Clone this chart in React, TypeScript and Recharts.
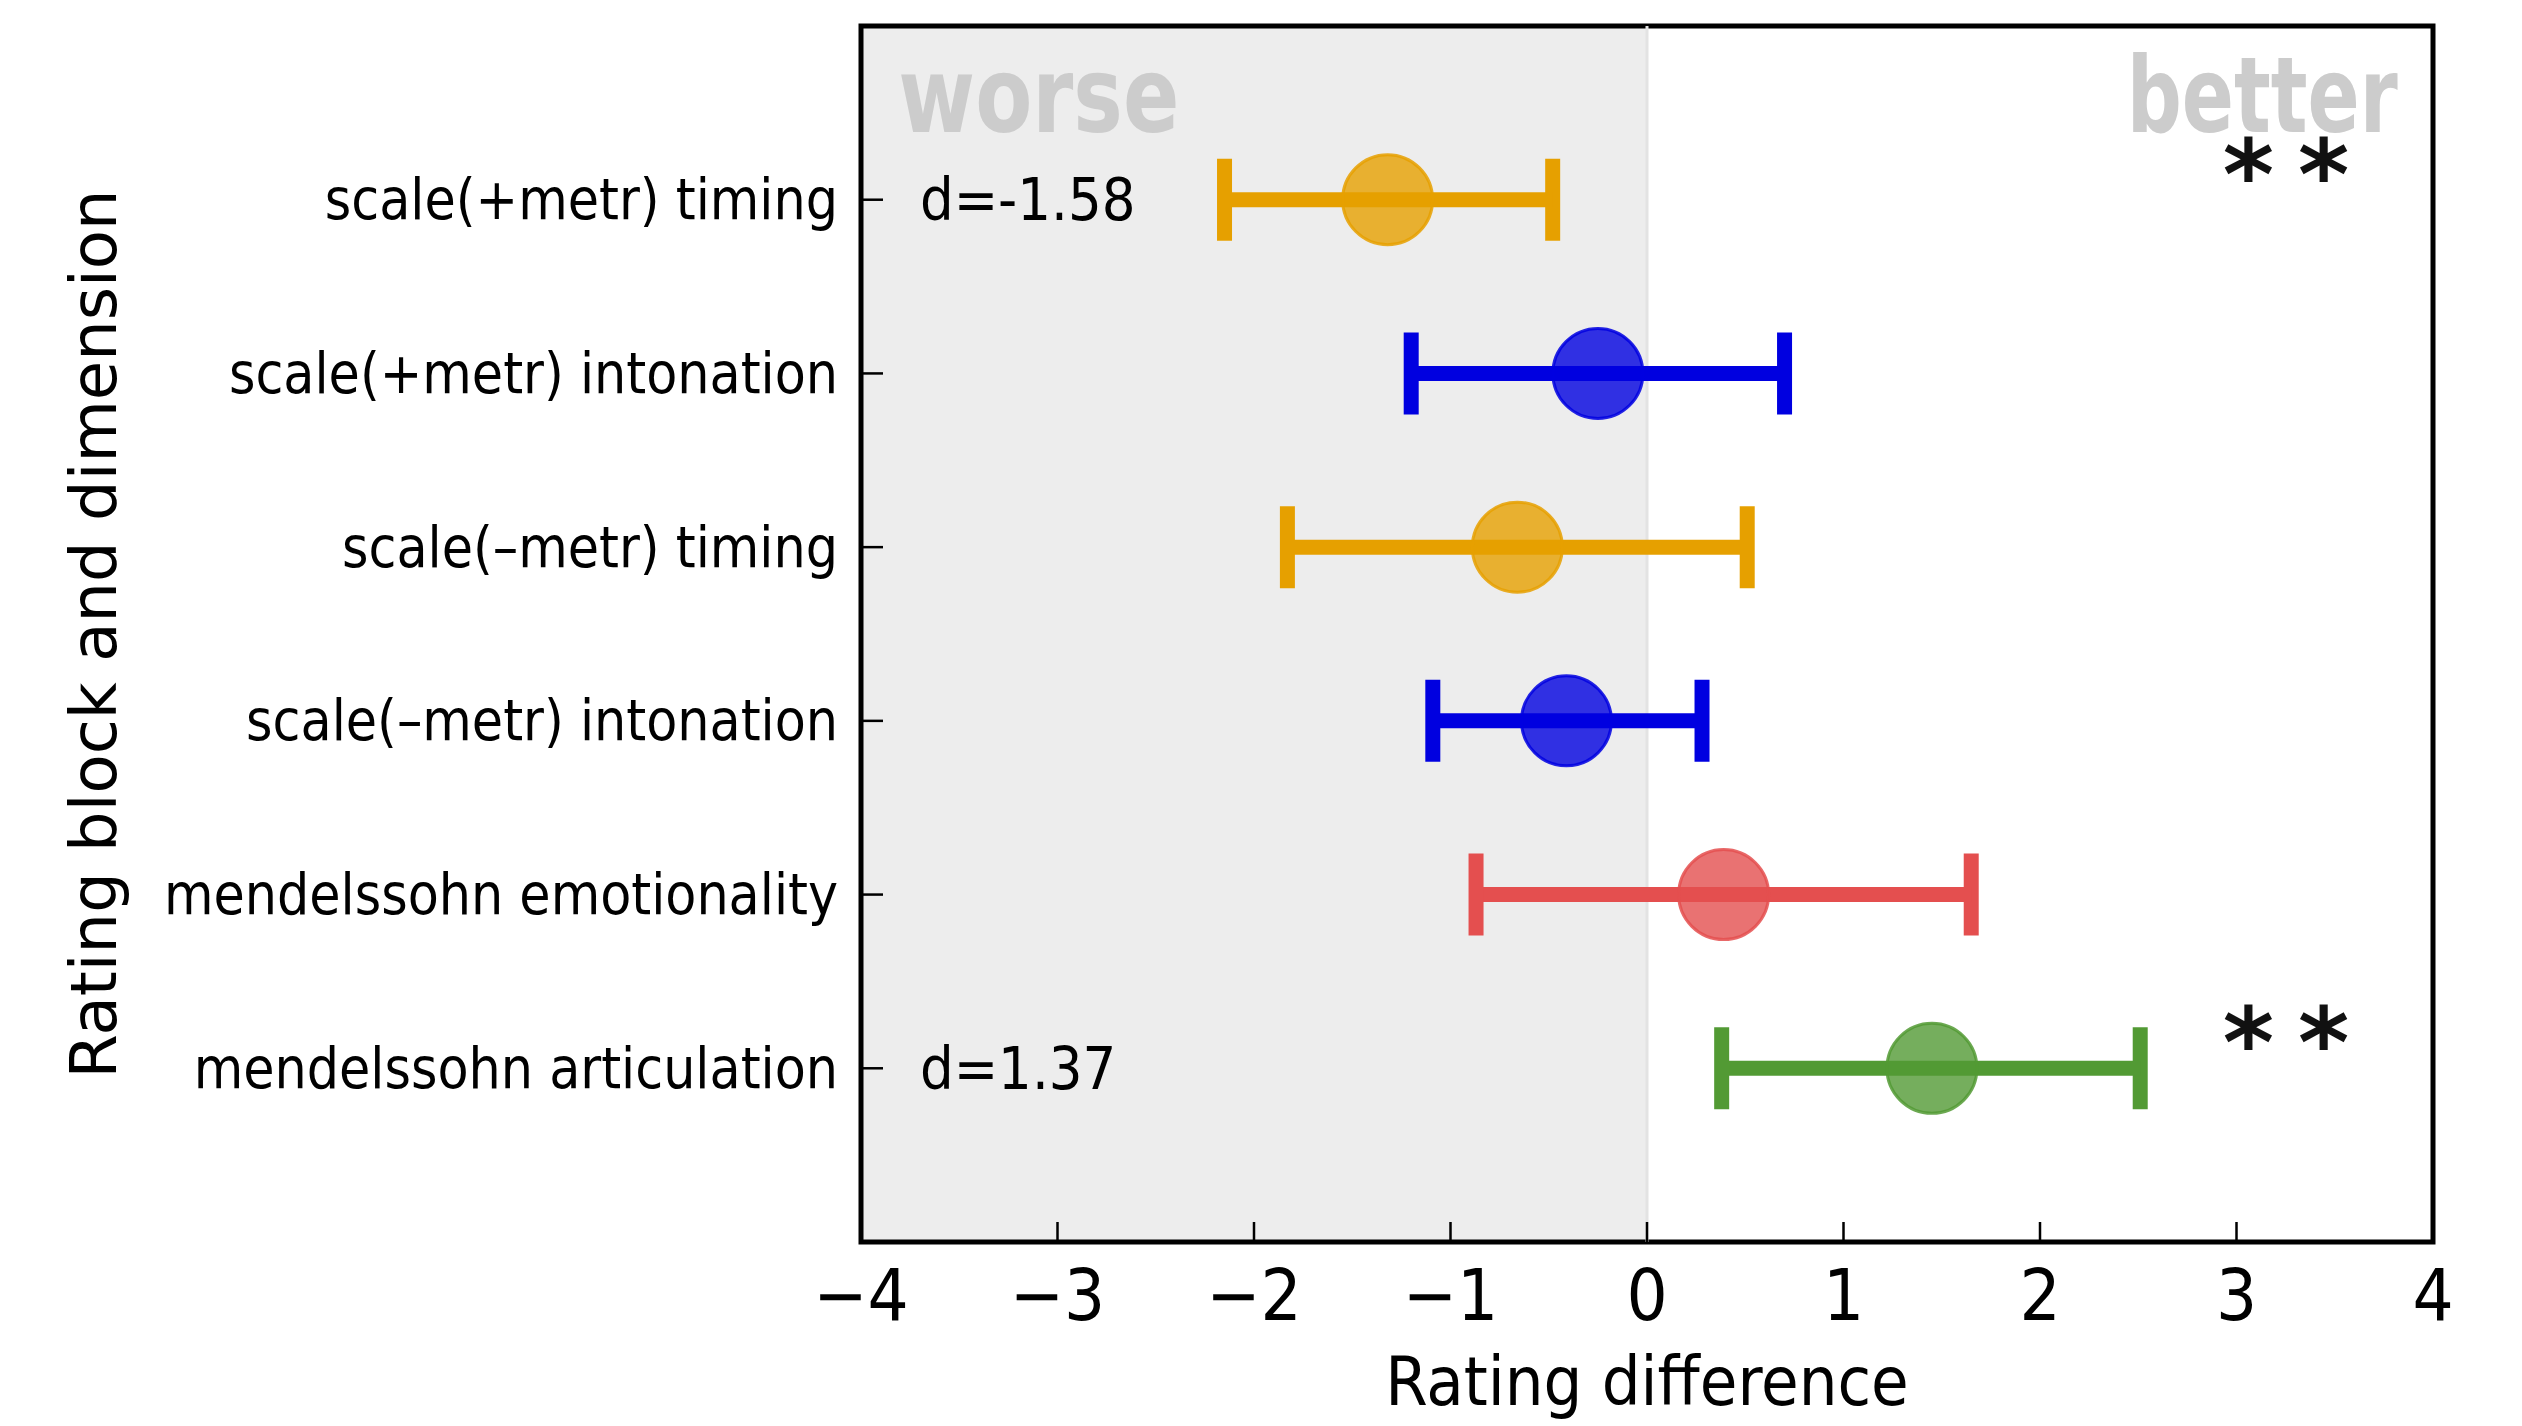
import {
  ScatterChart,
  Scatter,
  XAxis,
  YAxis,
  ErrorBar,
  ReferenceArea,
  ReferenceLine,
} from 'recharts'

// rows, top to bottom
const CATEGORIES = [
  'scale(+metr) timing',
  'scale(+metr) intonation',
  'scale(\u2013metr) timing',
  'scale(\u2013metr) intonation',
  'mendelssohn emotionality',
  'mendelssohn articulation',
]
const DIMENSIONS = ['timing', 'intonation', 'timing', 'intonation', 'emotionality', 'articulation']
const MEANS = [-1.32, -0.25, -0.66, -0.41, 0.39, 1.45]
const LOWER = [-2.15, -1.2, -1.83, -1.09, -0.87, 0.38]
const UPPER = [-0.48, 0.7, 0.51, 0.28, 1.65, 2.51]
const EFFECT_SIZES = ['d=-1.58', '', '', '', '', 'd=1.37']
const SIGNIFICANCE = ['**', '', '', '', '', '**']

const X_TICKS = [-4, -3, -2, -1, 0, 1, 2, 3, 4]
const X_TICK_LABELS = ['\u22124', '\u22123', '\u22122', '\u22121', '0', '1', '2', '3', '4']

const DIM_COLOR: Record<string, string> = {
  timing: '#e6a000',
  intonation: '#0000e0',
  emotionality: '#e44f4f',
  articulation: '#529a34',
}

const W = 2522
const H = 1426
const COND = "'DejaVu Sans Condensed', 'DejaVu Sans', sans-serif"
const PLAIN = "'DejaVu Sans', sans-serif"

// where the text annotations sit, in data units
const D_LABEL_X = -3.7
const STAR_X = 2.93
const HINT_Y = 0.61

const ROWS = CATEGORIES.map((_, i) => i + 1)

const points = CATEGORIES.map((name, i) => ({
  name,
  x: MEANS[i],
  y: i + 1,
  dim: DIMENSIONS[i],
  err: [MEANS[i] - LOWER[i], UPPER[i] - MEANS[i]],
}))

const groups = ['timing', 'intonation', 'emotionality', 'articulation']

const dLabels = EFFECT_SIZES.map((text, i) => ({ x: D_LABEL_X, y: i + 1, text })).filter((d) => d.text)
const stars = SIGNIFICANCE.map((text, i) => ({ x: STAR_X, y: i + 1, text })).filter((d) => d.text)
const hints = [
  { x: -3.81, y: HINT_Y, text: 'worse', anchor: 'start', len: 281 },
  { x: 3.82, y: HINT_Y, text: 'better', anchor: 'end', len: 271 },
]

function BottomTick({ x, y, payload }: any) {
  const label = X_TICK_LABELS[X_TICKS.indexOf(payload.value)]
  return (
    <g>
      <line x1={x} x2={x} y1={y} y2={y - 20} stroke="#000" strokeWidth={2.5} />
      <text x={x} y={y + 78} textAnchor="middle" fontSize={72} fontFamily={COND} fontStretch="condensed" fill="#000">
        {label}
      </text>
    </g>
  )
}

function TopTick({ x, y }: any) {
  return <line x1={x} x2={x} y1={y} y2={y + 20} stroke="#000" strokeWidth={2.5} />
}

function LeftTick({ x, y, payload }: any) {
  return (
    <g>
      <line x1={x} x2={x + 22} y1={y} y2={y} stroke="#000" strokeWidth={2.5} />
      <text
        x={x - 23}
        y={y}
        textAnchor="end"
        dominantBaseline="central"
        fontSize={56.5}
        fontFamily={COND}
        fontStretch="condensed"
        fill="#000"
      >
        {CATEGORIES[payload.value - 1]}
      </text>
    </g>
  )
}

function RightTick({ x, y }: any) {
  return <line x1={x} x2={x - 22} y1={y} y2={y} stroke="#000" strokeWidth={2.5} />
}

const dot = (color: string) => (p: any) => (
  <circle
    cx={p.cx}
    cy={p.cy}
    r={45}
    fill={color}
    fillOpacity={0.8}
    stroke={color}
    strokeOpacity={0.85}
    strokeWidth={3}
  />
)

const DLabel = (p: any) => (
  <text x={p.cx} y={p.cy} dominantBaseline="central" fontSize={59} fontFamily={COND} fontStretch="condensed" fill="#000">
    {p.payload.text}
  </text>
)

const Stars = (p: any) => (
  <text
    x={p.cx}
    y={p.cy + 9}
    textAnchor="start"
    fontSize={98}
    fontWeight="bold"
    letterSpacing={24}
    fontFamily={PLAIN}
    fill="#111"
  >
    {p.payload.text}
  </text>
)

const Hint = (p: any) => (
  <text
    x={p.cx}
    y={p.cy}
    textAnchor={p.payload.anchor}
    fontSize={106}
    fontWeight="bold"
    fontFamily={COND}
    fontStretch="condensed"
    textLength={p.payload.len}
    lengthAdjust="spacingAndGlyphs"
    fill="#cccccc"
  >
    {p.payload.text}
  </text>
)

const YLabel = (props: any) => {
  const vb = props.viewBox
  const cx = vb.x + 116
  const cy = vb.y + vb.height / 2
  return (
    <text
      x={cx}
      y={cy}
      transform={`rotate(-90, ${cx}, ${cy})`}
      textAnchor="middle"
      fontSize={64}
      fontFamily={PLAIN}
      fill="#000"
    >
      Rating block and dimension
    </text>
  )
}

const XLabel = (props: any) => {
  const vb = props.viewBox
  return (
    <text
      x={vb.x + vb.width / 2}
      y={vb.y + 163}
      textAnchor="middle"
      fontSize={68}
      fontFamily={COND}
      fontStretch="condensed"
      fill="#000"
    >
      Rating difference
    </text>
  )
}

export default function App() {
  return (
    <div style={{ position: 'absolute', left: 0, top: 0, width: W, height: H, background: '#fff' }}>
      <ScatterChart width={W} height={H} margin={{ top: 26, right: 0, bottom: 0, left: 0 }}>
        <XAxis
          type="number"
          dataKey="x"
          domain={[-4, 4]}
          ticks={X_TICKS}
          interval={0}
          height={184}
          axisLine={false}
          tickLine={false}
          tickSize={0}
          tickMargin={0}
          tick={<BottomTick />}
          label={XLabel}
        />
        <XAxis
          xAxisId="top"
          orientation="top"
          type="number"
          dataKey="x"
          domain={[-4, 4]}
          ticks={X_TICKS}
          interval={0}
          height={0}
          axisLine={false}
          tickLine={false}
          tickSize={0}
          tickMargin={0}
          tick={<TopTick />}
        />
        <YAxis
          type="number"
          dataKey="y"
          domain={[0, 7]}
          reversed
          ticks={ROWS}
          interval={0}
          width={861}
          axisLine={false}
          tickLine={false}
          tickSize={0}
          tickMargin={0}
          tick={<LeftTick />}
          label={YLabel}
        />
        <YAxis
          yAxisId="right"
          orientation="right"
          type="number"
          dataKey="y"
          domain={[0, 7]}
          reversed
          ticks={ROWS}
          interval={0}
          width={89}
          axisLine={false}
          tickLine={false}
          tickSize={0}
          tickMargin={0}
          tick={<RightTick />}
        />
        <ReferenceArea x1={-4} x2={0} y1={0} y2={7} fill="#ededed" fillOpacity={1} stroke="none" />
        <ReferenceLine x={0} stroke="#e3e3e3" strokeWidth={3} />
        <ReferenceArea x1={-4} x2={4} y1={0} y2={7} fill="none" stroke="#000" strokeWidth={5} />
        {groups.map((g) => (
          <Scatter
            key={g}
            data={points.filter((p) => p.dim === g)}
            shape={dot(DIM_COLOR[g])}
            isAnimationActive={false}
          >
            <ErrorBar
              dataKey="err"
              direction="x"
              width={41}
              strokeWidth={15}
              stroke={DIM_COLOR[g]}
              isAnimationActive={false}
            />
          </Scatter>
        ))}
        <Scatter data={dLabels} shape={DLabel} isAnimationActive={false} />
        <Scatter data={stars} shape={Stars} isAnimationActive={false} />
        <Scatter data={hints} shape={Hint} isAnimationActive={false} />
      </ScatterChart>
    </div>
  )
}
